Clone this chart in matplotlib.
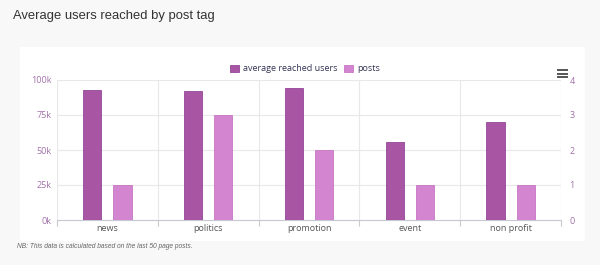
import matplotlib
matplotlib.use("Agg")
import matplotlib.pyplot as plt
from matplotlib.patches import Rectangle
import numpy as np

categories = ["news", "politics", "promotion", "event", "non profit"]
avg_reached = [93000, 92000, 94000, 56000, 70000]
posts = [1, 3, 2, 1, 1]
left_ticks = [0, 25000, 50000, 75000, 100000]
left_labels = ["0k", "25k", "50k", "75k", "100k"]
right_ticks = [0, 1, 2, 3, 4]

W, H = 600, 265
fig = plt.figure(figsize=(W / 100, H / 100), dpi=100)
fig.patch.set_facecolor("#f8f8f8")

# white panel
fig.patches.append(Rectangle((20 / W, 1 - 241 / H), 565 / W, 194 / H,
                             transform=fig.transFigure, facecolor="white",
                             edgecolor="none", zorder=-5))

ax = fig.add_axes([57 / W, 1 - 220 / H, (561 - 57) / W, 140 / H])
ax.set_facecolor("white")
ax2 = ax.twinx()

x = np.arange(len(categories))
dark = "#a855a3"
light = "#d385d0"
ax.bar(x - 0.15, avg_reached, width=0.18, color=dark, edgecolor="#96469a",
       linewidth=0.6, zorder=3, label="average reached users")
ax2.bar(x + 0.15, posts, width=0.18, color=light, edgecolor="#c776c4",
        linewidth=0.6, zorder=3, label="posts")

ax.set_xlim(-0.5, len(categories) - 0.5)
ax.set_ylim(0, 100000)
ax2.set_ylim(0, 4)
ax.set_yticks(left_ticks)
ax.set_yticklabels(left_labels)
ax2.set_yticks(right_ticks)
ax2.set_yticklabels([str(t) for t in right_ticks])

ax.set_xticks(x)
ax.set_xticklabels(categories)
ax.set_xticks(np.arange(len(categories) + 1) - 0.5, minor=True)

for a in (ax, ax2):
    for s in a.spines.values():
        s.set_visible(False)

ax.set_axisbelow(True)
ax.grid(axis="y", color="#e8e8e8", linewidth=0.8, zorder=0)
ax.grid(axis="x", which="minor", color="#e8e8e8", linewidth=0.8, zorder=0)
ax.spines["bottom"].set_visible(True)
ax.spines["bottom"].set_color("#c8c8d0")
ax.spines["bottom"].set_linewidth(0.8)

lab_col = "#a070a8"
ax.tick_params(axis="y", length=0, labelsize=6.5, labelcolor=lab_col, pad=4)
ax2.tick_params(axis="y", length=0, labelsize=6.5, labelcolor=lab_col, pad=6)
ax.tick_params(axis="x", which="major", length=0, labelsize=6.5,
               labelcolor="#555555", pad=3)
ax.tick_params(axis="x", which="minor", length=4, color="#c8c8d0", width=0.8)
for lbl in ax.get_yticklabels() + ax2.get_yticklabels() + ax.get_xticklabels():
    lbl.set_family("Open Sans")

h1, l1 = ax.get_legend_handles_labels()
h2, l2 = ax2.get_legend_handles_labels()
fig.legend(h1 + h2, l1 + l2, loc="center", bbox_to_anchor=(305 / W, 1 - 69 / H),
           ncol=2, frameon=False, handlelength=1.0, handleheight=0.9,
           handletextpad=0.4, columnspacing=0.8,
           prop={"family": "Open Sans", "size": 6.5}, labelcolor="#333355")

# hamburger menu icon
for yy in (70, 73.5, 77):
    fig.lines.append(plt.Line2D([558 / W, 567 / W], [1 - yy / H, 1 - yy / H],
                                transform=fig.transFigure, color="#555555",
                                linewidth=1.4))

fig.text(13 / W, 1 - 16 / H, "Average users reached by post tag",
         fontsize=9.4, color="#333333", family="Liberation Sans",
         va="center", ha="left")
fig.text(17 / W, 1 - 247 / H,
         "NB: This data is calculated based on the last 50 page posts.",
         fontsize=4.8, color="#666666", style="italic",
         family="Liberation Sans", va="center", ha="left")

fig.savefig("out.png", dpi=100, facecolor=fig.get_facecolor())
